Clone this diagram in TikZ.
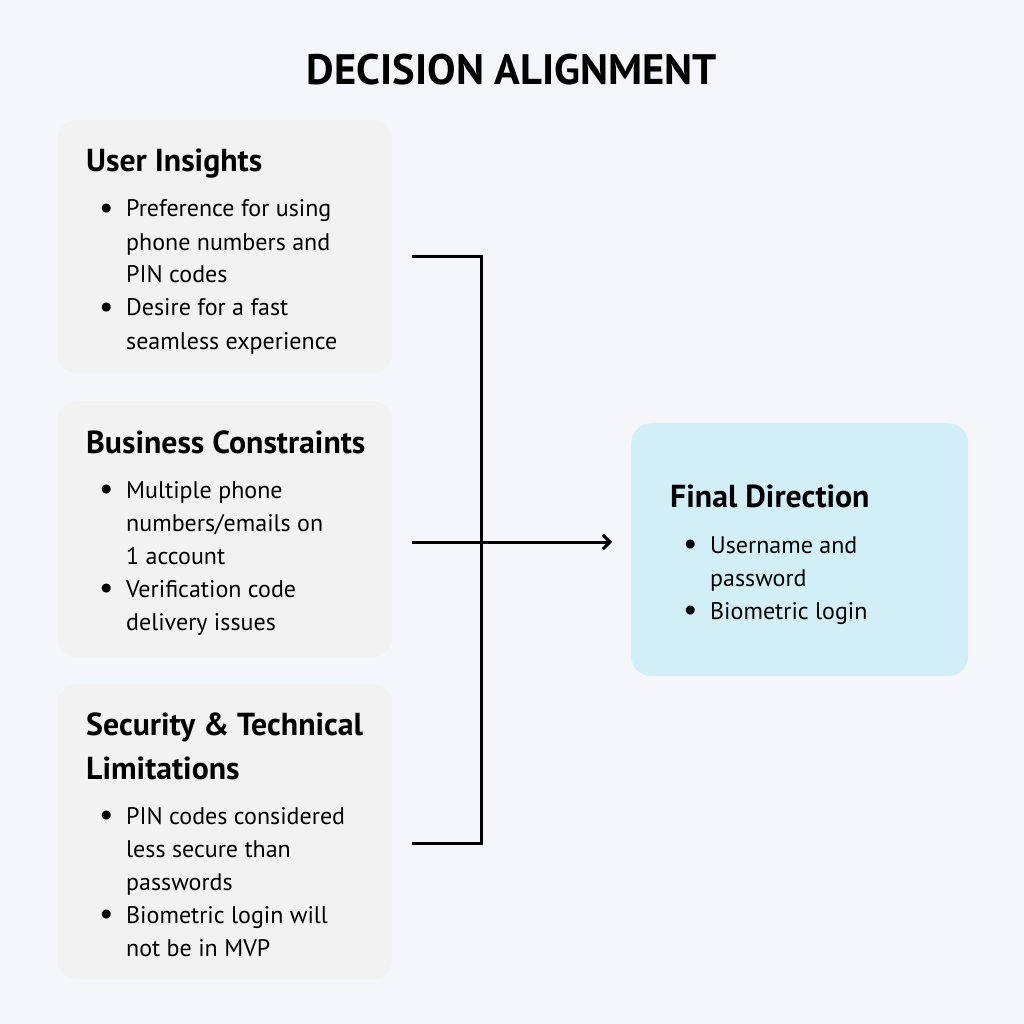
\documentclass[tikz,border=0pt]{standalone}
\usepackage{fontspec}
\setmainfont{PT Sans}
\usetikzlibrary{arrows.meta,positioning}
\definecolor{pagebg}{HTML}{F5F6FA}
\definecolor{cardgray}{HTML}{F2F2F2}
\definecolor{cardcyan}{HTML}{D2EFF7}
\newcommand{\cardlist}[1]{\begin{tabular}[t]{@{}p{19pt}@{}l@{}}#1\end{tabular}}
\newcommand{\cardhead}[1]{\begin{tabular}[t]{@{}l@{}}#1\end{tabular}}
\newcommand{\dotitem}{\hspace*{-8pt}\raisebox{-1.5pt}{\fontsize{32}{33}\selectfont\textbullet}}

\begin{document}
\begin{tikzpicture}[
    x=1pt, y=-1pt,
    card/.style={rounded corners=20pt, inner sep=0pt, anchor=north west, minimum width=335pt},
    head/.style={anchor=base west, inner sep=0pt, font=\fontsize{31.8}{44}\selectfont\bfseries},
    body/.style={anchor=base west, inner sep=0pt, font=\fontsize{24}{33}\selectfont},
    link/.style={line width=3pt},
    arrow/.style={link, -{Straight Barb[length=7pt,width=14pt]}}
]
\useasboundingbox[fill=pagebg] (0,0) rectangle (1024,1024);
\node[anchor=base, inner sep=0pt, font=\fontsize{42.6}{48}\selectfont\bfseries] (title) at (512,85) {DECISION ALIGNMENT};

% input cards
\node[card, fill=cardgray, minimum height=253pt] (ui) at (57,120) {};
\node[head] (ui-head) at (86,172) {User Insights};
\node[body] (ui-list) at (107,217) {\cardlist{\dotitem & Preference for using\\ & phone numbers and\\ & PIN codes\\ \dotitem & Desire for a fast\\ & seamless experience}};

\node[card, fill=cardgray, minimum height=256pt] (bc) at (57,401) {};
\node[head] (bc-head) at (86,453) {Business Constraints};
\node[body] (bc-list) at (107,498) {\cardlist{\dotitem & Multiple phone\\ & numbers/emails on\\ & 1 account\\ \dotitem & Verification code\\ & delivery issues}};

\node[card, fill=cardgray, minimum height=295pt] (sl) at (57,684) {};
\node[head] (sl-head) at (86,735) {\cardhead{Security \& Technical\\ Limitations}};
\node[body] (sl-list) at (107,824) {\cardlist{\dotitem & PIN codes considered\\ & less secure than\\ & passwords\\ \dotitem & Biometric login will\\ & not be in MVP}};

% outcome card
\node[card, fill=cardcyan, minimum width=337pt, minimum height=253pt] (fd) at (631,423) {};
\node[head] (fd-head) at (670,507) {Final Direction};
\node[body] (fd-list) at (691,553) {\cardlist{\dotitem & Username and\\ & password\\ \dotitem & Biometric login}};

% bracket and arrow
\coordinate (ui-out) at ([xshift=20pt]ui.east |- 0,256);
\coordinate (bc-out) at ([xshift=20pt]bc.east |- 0,542);
\coordinate (sl-out) at ([xshift=20pt]sl.east |- 0,843);
\coordinate (hub) at (481,542);
\coordinate (fd-in) at ([xshift=-19pt]fd.west |- hub);
\draw[link] (ui-out) -| (hub) |- (sl-out);
\draw[arrow] (bc-out) -- (fd-in);
\end{tikzpicture}
\end{document}
